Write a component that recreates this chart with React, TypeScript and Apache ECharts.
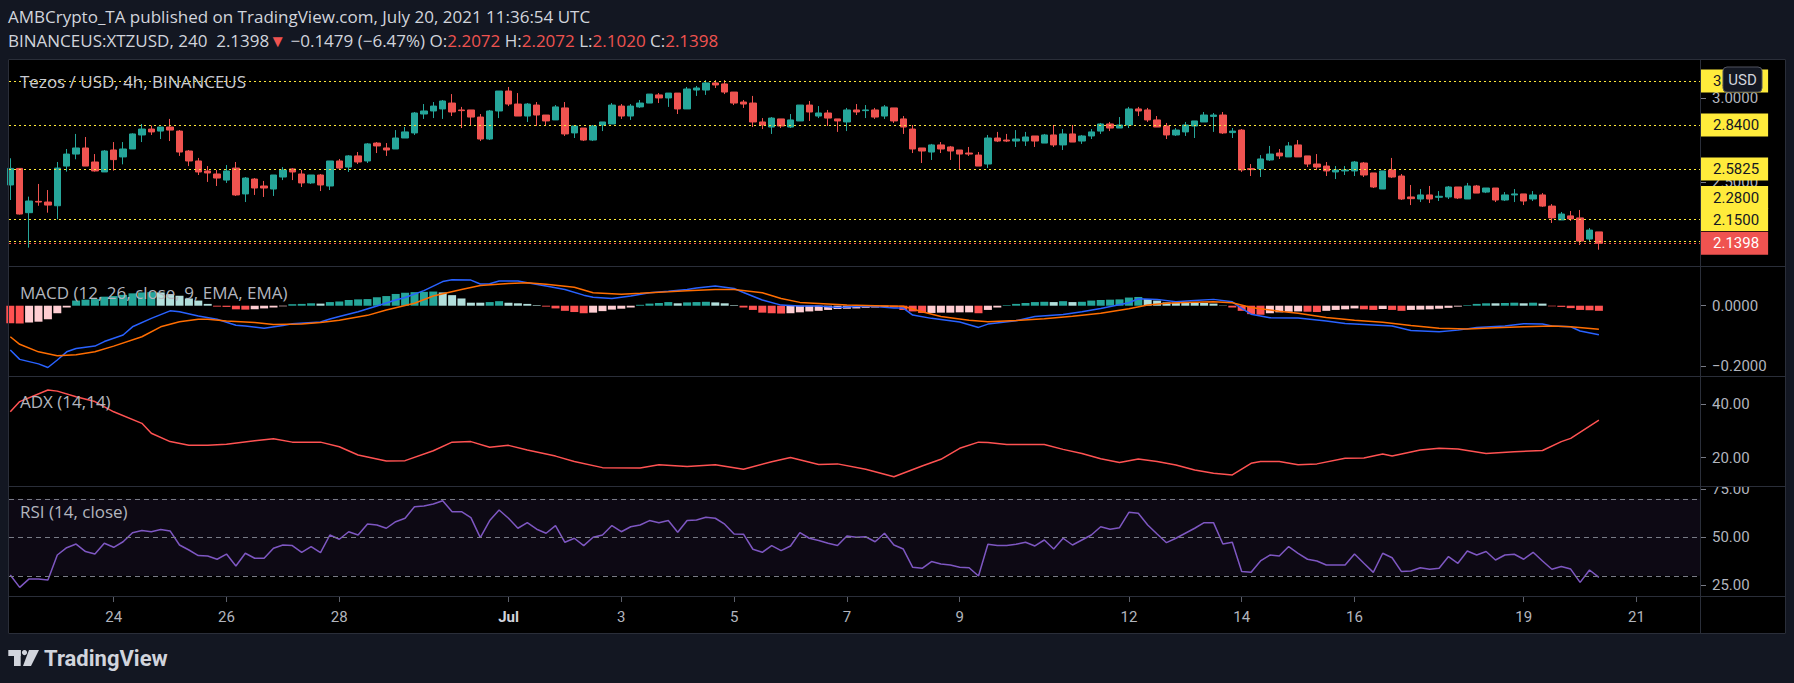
import React, { useEffect, useRef } from 'react';
import * as echarts from 'echarts';

const FONT = 'Roboto, "Noto Sans", "DejaVu Sans", sans-serif';
const LABEL_FONT = '"Open Sans", Roboto, "Noto Sans", sans-serif';

// x values are days counted from June 1 (June 24 = 24, July 1 = 31)
const FIRST_CANDLE_DAY = 22 + 4 / 24; // June 22, 04:00
const CANDLE_DAYS = 4 / 24; // 4h candles
const X_MIN = 22.1436;
const X_MAX = 52.1436;

const dayTicks = [24, 26, 28, 31, 33, 35, 37, 39, 42, 44, 46, 49, 51];
const dayTickLabels = ['24', '26', '28', 'Jul', '3', '5', '7', '9', '12', '14', '16', '19', '21'];

const opens = [2.485,2.583,2.321,2.388,2.384,2.362,2.597,2.668,2.704,2.621,
2.562,2.692,2.651,2.698,2.781,2.816,2.804,2.828,2.804,2.686,
2.627,2.568,2.550,2.514,2.585,2.432,2.520,2.479,2.461,2.532,
2.580,2.550,2.497,2.544,2.479,2.627,2.591,2.657,2.627,2.733,
2.704,2.698,2.763,2.793,2.905,2.923,2.935,2.970,2.929,2.929,
2.887,2.757,2.923,3.041,2.964,2.893,2.958,2.899,2.870,2.941,
2.793,2.822,2.751,2.840,2.846,2.952,2.893,2.947,2.970,3.018,
3.000,3.029,2.935,3.047,3.047,3.089,3.083,3.035,2.976,2.970,
2.858,2.828,2.876,2.828,2.864,2.958,2.893,2.911,2.876,2.858,
2.929,2.925,2.929,2.893,2.941,2.876,2.816,2.704,2.680,2.722,
2.710,2.692,2.674,2.662,2.609,2.763,2.751,2.745,2.745,2.775,
2.733,2.781,2.722,2.787,2.745,2.775,2.804,2.846,2.822,2.840,
2.935,2.929,2.870,2.834,2.781,2.799,2.834,2.858,2.891,2.899,
2.795,2.810,2.582,2.580,2.633,2.674,2.651,2.722,2.657,2.609,
2.597,2.562,2.568,2.568,2.615,2.556,2.461,2.574,2.538,2.414,
2.402,2.426,2.412,2.414,2.473,2.402,2.479,2.443,2.467,2.396,
2.426,2.432,2.402,2.426,2.360,2.278,2.302,2.290,2.165,2.2072];

const highs = [2.643,2.585,2.416,2.491,2.455,2.621,2.698,2.787,2.769,2.668,
2.692,2.739,2.739,2.791,2.846,2.836,2.828,2.876,2.810,2.692,
2.645,2.597,2.574,2.603,2.621,2.532,2.526,2.509,2.544,2.591,
2.585,2.574,2.544,2.550,2.627,2.639,2.662,2.680,2.733,2.739,
2.733,2.810,2.828,2.917,2.964,2.976,2.988,3.023,2.947,2.929,
2.905,2.929,3.041,3.065,3.029,2.970,2.976,2.899,2.958,2.976,
2.834,2.822,2.840,2.858,2.970,2.964,2.964,2.988,3.023,3.029,
3.029,3.029,3.065,3.071,3.106,3.106,3.106,3.035,2.988,3.012,
2.881,2.887,2.876,2.905,2.958,2.982,2.952,2.929,2.876,2.941,
2.964,2.958,2.941,2.958,2.941,2.893,2.840,2.704,2.728,2.739,
2.716,2.692,2.710,2.680,2.781,2.799,2.787,2.810,2.799,2.775,
2.787,2.840,2.816,2.840,2.781,2.816,2.852,2.858,2.887,2.947,
2.947,2.941,2.893,2.852,2.822,2.858,2.864,2.917,2.911,2.917,
2.822,2.816,2.609,2.662,2.716,2.698,2.739,2.751,2.657,2.668,
2.621,2.597,2.597,2.627,2.621,2.556,2.568,2.645,2.550,2.485,
2.461,2.479,2.449,2.479,2.473,2.497,2.485,2.467,2.467,2.443,
2.461,2.432,2.449,2.437,2.372,2.325,2.331,2.337,2.230,2.2072];

const lows = [2.396,2.310,2.114,2.362,2.321,2.282,2.564,2.637,2.597,2.564,
2.562,2.570,2.607,2.698,2.739,2.781,2.757,2.745,2.657,2.597,
2.544,2.503,2.479,2.497,2.420,2.384,2.426,2.414,2.420,2.514,
2.514,2.473,2.491,2.449,2.455,2.574,2.562,2.609,2.615,2.674,
2.657,2.698,2.763,2.781,2.876,2.881,2.876,2.893,2.822,2.834,
2.745,2.751,2.881,2.952,2.893,2.858,2.834,2.834,2.870,2.775,
2.763,2.745,2.745,2.804,2.846,2.876,2.870,2.941,2.970,2.970,
2.947,2.905,2.935,3.012,3.018,3.059,3.023,2.958,2.941,2.828,
2.816,2.787,2.822,2.822,2.864,2.864,2.881,2.834,2.799,2.804,
2.899,2.881,2.876,2.876,2.852,2.787,2.674,2.615,2.633,2.674,
2.633,2.574,2.657,2.597,2.585,2.739,2.739,2.710,2.716,2.710,
2.733,2.710,2.692,2.739,2.728,2.757,2.787,2.804,2.822,2.822,
2.893,2.858,2.828,2.757,2.775,2.775,2.763,2.858,2.799,2.787,
2.763,2.562,2.538,2.532,2.627,2.639,2.651,2.651,2.591,2.574,
2.538,2.520,2.544,2.538,2.532,2.467,2.461,2.526,2.396,2.366,
2.384,2.378,2.390,2.402,2.402,2.402,2.437,2.437,2.384,2.390,
2.384,2.366,2.390,2.355,2.260,2.278,2.272,2.130,2.147,2.1020];

const closes = [2.583,2.313,2.390,2.384,2.366,2.585,2.668,2.704,2.597,2.568,
2.686,2.635,2.698,2.787,2.816,2.799,2.828,2.810,2.680,2.627,
2.562,2.556,2.526,2.568,2.426,2.526,2.467,2.467,2.544,2.574,
2.562,2.497,2.544,2.485,2.627,2.585,2.657,2.621,2.728,2.716,
2.692,2.763,2.799,2.911,2.923,2.952,2.982,2.917,2.925,2.887,
2.757,2.923,3.041,2.964,2.893,2.964,2.899,2.864,2.947,2.787,
2.834,2.751,2.834,2.858,2.958,2.893,2.952,2.970,3.023,3.000,
3.029,2.935,3.053,3.059,3.089,3.077,3.035,2.970,2.964,2.858,
2.840,2.881,2.834,2.870,2.958,2.917,2.911,2.881,2.864,2.929,
2.917,2.929,2.887,2.947,2.864,2.828,2.698,2.686,2.722,2.698,
2.686,2.668,2.668,2.597,2.763,2.745,2.745,2.757,2.769,2.745,
2.781,2.722,2.787,2.739,2.775,2.799,2.846,2.822,2.840,2.935,
2.923,2.870,2.828,2.781,2.810,2.840,2.864,2.899,2.899,2.793,
2.804,2.574,2.576,2.639,2.668,2.657,2.716,2.651,2.609,2.591,
2.568,2.574,2.574,2.621,2.544,2.473,2.568,2.532,2.402,2.404,
2.426,2.402,2.418,2.473,2.408,2.479,2.437,2.467,2.396,2.426,
2.432,2.390,2.426,2.360,2.290,2.313,2.284,2.153,2.218,2.1398];

const macdHist = [-0.058,-0.059,-0.056,-0.053,-0.045,-0.025,-0.006,0.017,0.020,0.022,
0.030,0.032,0.036,0.041,0.044,0.045,0.044,0.038,0.033,0.024,
0.017,0.006,-0.003,-0.004,-0.012,-0.013,-0.012,-0.009,-0.006,-0.002,
0.005,0.006,0.008,0.007,0.012,0.014,0.019,0.021,0.022,0.028,
0.032,0.039,0.043,0.045,0.046,0.047,0.044,0.035,0.024,0.010,
0.010,0.012,0.015,0.010,0.008,0.006,0.002,-0.003,-0.009,-0.017,
-0.021,-0.025,-0.023,-0.018,-0.013,-0.010,-0.006,0.003,0.007,0.009,
0.012,0.008,0.011,0.012,0.013,0.011,0.008,0.002,-0.006,-0.014,
-0.023,-0.025,-0.026,-0.025,-0.022,-0.019,-0.017,-0.014,-0.011,-0.010,
-0.009,-0.007,-0.006,-0.004,-0.006,-0.014,-0.019,-0.024,-0.024,-0.023,
-0.023,-0.022,-0.022,-0.025,-0.014,-0.006,0.002,0.006,0.009,0.012,
0.013,0.012,0.015,0.012,0.013,0.017,0.019,0.020,0.021,0.027,
0.029,0.022,0.017,0.011,0.010,0.010,0.010,0.009,0.007,0.001,
-0.006,-0.017,-0.028,-0.030,-0.025,-0.022,-0.020,-0.019,-0.020,-0.021,
-0.017,-0.014,-0.012,-0.009,-0.012,-0.014,-0.011,-0.014,-0.017,-0.014,
-0.013,-0.012,-0.010,-0.007,-0.003,0.002,0.006,0.008,0.008,0.009,
0.010,0.008,0.010,0.007,-0.002,-0.004,-0.008,-0.014,-0.015,-0.017];

const macdAt = [0,1,3,4,5,6,7,9,10,12,13,15,17,18,20,22,24,25,27,29,30,33,34,35,37,39,41,42,44,46,47,49,50,51,52,54,55,57,59,61,62,64,66,68,70,72,73,75,77,78,80,82,84,86,88,90,92,94,95,96,98,101,103,104,107,109,112,114,116,119,120,122,124,126,128,130,131,132,134,137,140,142,144,147,149,152,154,156,159,161,163,164,166,167,169];
const macdLine = [-0.147,-0.178,-0.193,-0.205,-0.180,-0.153,-0.142,-0.134,-0.119,-0.097,-0.070,-0.042,-0.017,-0.020,-0.034,-0.045,-0.065,-0.067,-0.075,-0.066,-0.060,-0.054,-0.044,-0.036,-0.020,-0.001,0.019,0.027,0.050,0.080,0.086,0.085,0.072,0.073,0.082,0.082,0.076,0.065,0.054,0.035,0.028,0.024,0.032,0.043,0.048,0.054,0.059,0.065,0.057,0.044,0.019,0.002,-0.001,-0.001,-0.006,-0.003,-0.003,-0.008,-0.008,-0.031,-0.042,-0.054,-0.072,-0.061,-0.050,-0.036,-0.029,-0.020,-0.009,0.010,0.023,0.021,0.013,0.017,0.021,0.013,-0.009,-0.028,-0.040,-0.041,-0.051,-0.059,-0.062,-0.067,-0.082,-0.086,-0.081,-0.072,-0.067,-0.060,-0.061,-0.067,-0.070,-0.084,-0.096];

const signalAt = [0,1,3,5,7,9,11,14,16,18,20,21,23,26,28,31,33,35,38,40,43,45,48,50,53,55,57,60,62,65,67,70,72,75,77,80,82,84,87,89,92,95,97,99,102,104,107,110,113,116,119,121,123,125,128,130,132,135,137,140,143,146,149,152,155,158,161,164,166,169];
const signalLine = [-0.103,-0.128,-0.153,-0.166,-0.163,-0.153,-0.134,-0.103,-0.070,-0.053,-0.045,-0.045,-0.051,-0.056,-0.062,-0.061,-0.056,-0.048,-0.032,-0.014,0.008,0.032,0.054,0.067,0.074,0.076,0.071,0.061,0.043,0.038,0.041,0.046,0.050,0.054,0.054,0.043,0.024,0.011,0.006,0.002,0.000,-0.002,-0.020,-0.036,-0.048,-0.053,-0.049,-0.043,-0.035,-0.025,-0.010,0.002,0.008,0.011,0.013,0.010,-0.006,-0.018,-0.025,-0.039,-0.048,-0.055,-0.066,-0.075,-0.077,-0.073,-0.070,-0.067,-0.070,-0.078];

const adxAt = [0,1,4,5,7,9,11,14,15,17,19,21,23,26,28,30,33,35,37,40,42,45,47,49,51,53,55,58,60,63,67,69,72,75,78,81,83,86,88,91,94,97,99,101,103,104,106,110,112,114,116,118,120,122,124,126,128,130,132,133,135,137,139,142,144,146,147,150,152,154,157,160,163,165,166,169];
const adxValues = [37.1,40.9,45.2,44.8,42.7,40.9,37.1,32.8,29.1,26.0,24.6,24.6,25.0,26.3,27.1,25.8,25.8,24.1,21.0,18.8,18.9,22.6,25.8,26.0,23.9,24.6,22.9,20.6,18.6,16.3,16.2,17.4,16.7,17.4,15.7,18.5,20.1,17.5,17.7,15.7,12.9,16.9,19.4,23.5,25.8,25.7,24.9,24.9,23.1,21.6,19.6,18.2,19.5,18.6,17.3,15.4,14.2,13.6,17.9,18.6,18.6,17.4,17.7,19.8,19.9,21.4,20.6,22.9,23.5,23.2,21.6,22.2,22.7,26.0,27.2,34.0];

const rsiValues = [30.4,24.0,28.4,28.4,27.8,40.8,44.6,46.5,42.6,41.3,
46.9,44.8,47.7,52.4,53.5,52.9,54.0,53.3,46.0,43.4,
40.5,40.3,38.6,41.3,35.1,41.7,39.1,39.1,44.3,46.0,
45.7,42.2,45.2,42.0,51.2,49.0,52.9,51.2,56.9,56.4,
54.7,58.1,59.9,65.9,66.3,67.3,69.0,63.3,63.3,60.2,
49.8,58.7,64.2,59.9,54.7,57.6,54.2,52.1,56.1,47.4,
49.5,45.7,50.0,51.2,56.1,52.9,55.5,56.4,58.7,57.6,
58.7,52.6,58.7,59.0,60.4,59.9,56.8,51.7,51.6,43.8,
42.2,45.7,43.1,45.5,52.4,49.5,48.3,46.9,45.7,50.7,
50.0,50.3,47.7,52.1,46.0,43.9,34.4,33.9,37.4,36.1,
35.6,34.4,34.2,29.9,46.4,45.7,45.7,46.4,47.4,45.5,
48.6,43.9,49.5,46.0,48.6,51.2,55.5,54.2,55.0,63.0,
62.5,56.4,51.7,47.2,49.5,52.1,54.7,57.6,57.6,46.5,
47.4,32.2,31.8,37.7,40.8,40.3,45.2,41.7,38.6,37.7,
35.6,35.6,35.6,41.3,36.5,31.8,41.7,39.4,32.2,32.5,
34.2,33.4,33.9,40.0,36.5,42.9,40.8,42.6,38.2,40.8,
41.2,38.6,42.2,37.7,33.4,34.8,33.5,26.6,33.0,29.2];

const priceLevels = [3.1, 2.84, 2.5825, 2.28, 2.15];
const lastClose = 2.1398;
const priceTicks = [2.5, 3.0];
const macdTicks = [-0.2, 0];
const adxTicks = [20, 40];
const rsiTicks = [25, 50, 75];
const rsiGuides = [70, 50, 30];

const candleDay = (k: number) => FIRST_CANDLE_DAY + k * CANDLE_DAYS;

const histColor = (k: number) => {
  const v = macdHist[k];
  const p = k > 0 ? macdHist[k - 1] : 0;
  if (v >= 0) return v > p ? '#26a69a' : '#b2dfdb';
  return v < p ? '#ff5252' : '#ffcdd2';
};

const AXIS_TEXT = '#b2b5be';
const SEP = '#2a2e39';

function buildOption() {
  const grids = [
    { left: 9, top: 60, width: 1692, height: 206 },
    { left: 9, top: 267, width: 1692, height: 110 },
    { left: 9, top: 377, width: 1692, height: 110 },
    { left: 9, top: 487, width: 1692, height: 110 },
  ];
  const xAxis = grids.map((_, i) => ({
    type: 'value',
    gridIndex: i,
    min: X_MIN,
    max: X_MAX,
    show: i === 3,
    axisLine: { show: false },
    splitLine: { show: false },
    axisTick: { show: i === 3, customValues: dayTicks, length: 5, lineStyle: { color: '#5d606b' } },
    axisLabel: {
      show: i === 3,
      customValues: dayTicks,
      margin: 12,
      color: AXIS_TEXT,
      fontSize: 15,
      fontFamily: FONT,
      formatter: (v: number) => {
        const idx = dayTicks.findIndex((d) => Math.abs(d - v) < 1e-6);
        const t = idx >= 0 ? dayTickLabels[idx] : '';
        return t === 'Jul' ? '{b|Jul}' : t;
      },
      rich: { b: { fontWeight: 'bold', color: '#d1d4dc', fontSize: 15, fontFamily: FONT } },
    },
  }));
  const yDef = (i: number, min: number, max: number, ticks: number[], fmt: (v: number) => string) => ({
    type: 'value',
    gridIndex: i,
    position: 'right',
    min,
    max,
    axisLine: { show: false },
    splitLine: { show: false },
    axisTick: { show: true, customValues: ticks, length: 5, lineStyle: { color: '#787b86' } },
    axisLabel: { customValues: ticks, margin: 11, color: AXIS_TEXT, fontSize: 15, fontFamily: FONT, formatter: fmt },
  });
  const yAxis = [
    yDef(0, 2.0054, 3.2247, priceTicks, (v) => v.toFixed(4)),
    yDef(1, -0.2365, 0.1284, macdTicks, (v) => (v < 0 ? '\u2212' : '') + Math.abs(v).toFixed(4)),
    yDef(2, 9.09, 50.06, adxTicks, (v) => v.toFixed(2)),
    yDef(3, 18.99, 76.13, rsiTicks, (v) => v.toFixed(2)),
  ];

  const candleData = opens.map((o, k) => [candleDay(k), o, closes[k], lows[k], highs[k]]);

  const levelLabel = (v: number) => {
    const txt = v.toFixed(4);
    // labels of the two lowest yellow levels are stacked upwards, as TradingView does
    return v === 2.28 || v === 2.15 ? `{y|${txt}}\n{g| }` : `{y|${txt}}`;
  };

  const series: any[] = [
    {
      type: 'candlestick',
      xAxisIndex: 0,
      yAxisIndex: 0,
      dimensions: ['time', 'open', 'close', 'lowest', 'highest'],
      encode: { x: 'time', y: ['open', 'close', 'lowest', 'highest'] },
      data: candleData,
      barWidth: 7,
      silent: true,
      itemStyle: { color: '#26a69a', color0: '#ef5350', borderColor: '#26a69a', borderColor0: '#ef5350', borderWidth: 1 },
      markLine: {
        silent: true,
        symbol: ['none', 'none'],
        animation: false,
        lineStyle: { color: '#ffeb3b', type: [2, 3], width: 1 },
        label: {
          show: true,
          position: 'end',
          distance: 0,
          rich: {
            y: { backgroundColor: '#ffeb3b', color: '#131722', fontSize: 15, lineHeight: 15, fontFamily: FONT, padding: [4, 9, 4, 12] },
            r: { backgroundColor: '#ef5350', color: '#ffffff', fontSize: 15, lineHeight: 15, fontFamily: FONT, padding: [4, 9, 4, 12] },
            g: { height: 44, lineHeight: 44, fontSize: 1 },
          },
        },
        data: [
          ...priceLevels.map((v) => ({ yAxis: v, label: { formatter: levelLabel(v) } })),
          { yAxis: lastClose, lineStyle: { color: '#ef5350', type: [2, 3] }, label: { formatter: `{r|${lastClose.toFixed(4)}}` } },
        ],
      },
    },
    {
      type: 'bar',
      xAxisIndex: 1,
      yAxisIndex: 1,
      barWidth: 8,
      silent: true,
      data: macdHist.map((v, k) => ({ value: [candleDay(k), v], itemStyle: { color: histColor(k) } })),
    },
    {
      type: 'line',
      xAxisIndex: 1,
      yAxisIndex: 1,
      showSymbol: false,
      silent: true,
      z: 3,
      lineStyle: { color: '#2962ff', width: 1.5 },
      data: macdAt.map((k, i) => [candleDay(k), macdLine[i]]),
    },
    {
      type: 'line',
      xAxisIndex: 1,
      yAxisIndex: 1,
      showSymbol: false,
      silent: true,
      z: 3,
      lineStyle: { color: '#ff6d00', width: 1.5 },
      data: signalAt.map((k, i) => [candleDay(k), signalLine[i]]),
    },
    {
      type: 'line',
      xAxisIndex: 2,
      yAxisIndex: 2,
      showSymbol: false,
      silent: true,
      lineStyle: { color: '#ff5252', width: 1.5 },
      data: adxAt.map((k, i) => [candleDay(k), adxValues[i]]),
    },
    {
      type: 'line',
      xAxisIndex: 3,
      yAxisIndex: 3,
      showSymbol: false,
      silent: true,
      lineStyle: { color: '#7e57c2', width: 1.5 },
      data: rsiValues.map((v, k) => [candleDay(k), v]),
      markArea: {
        silent: true,
        itemStyle: { color: 'rgba(126,87,194,0.1)' },
        label: { show: false },
        data: [[{ yAxis: rsiGuides[2] }, { yAxis: rsiGuides[0] }]],
      },
      markLine: {
        silent: true,
        symbol: ['none', 'none'],
        label: { show: false },
        lineStyle: { color: '#787b86', type: [5, 4], width: 1 },
        data: rsiGuides.map((v) => ({ yAxis: v })),
      },
    },
  ];

  const hLine = (y: number) => ({
    type: 'line',
    z: 50,
    silent: true,
    shape: { x1: 8, y1: y, x2: 1786, y2: y },
    style: { stroke: SEP, lineWidth: 1 },
  });
  const paneLabel = (text: string, y: number, color: string) => ({
    type: 'text',
    x: 20,
    y,
    z: 60,
    silent: true,
    style: { text, fill: color, fontSize: 17, fontFamily: LABEL_FONT, verticalAlign: 'middle', align: 'left' },
  });

  const graphic = [
    { type: 'rect', z: -10, silent: true, shape: { x: 8, y: 59, width: 1778, height: 575 }, style: { fill: '#000000' } },
    // cover the top of the RSI 75 label (clipped by the pane)
    { type: 'rect', z: 45, silent: true, shape: { x: 1702, y: 476, width: 83, height: 10.5 }, style: { fill: '#000000' } },
    hLine(266.5),
    hLine(376.5),
    hLine(486.5),
    hLine(596.5),
    { type: 'rect', z: 50, silent: true, shape: { x: 8.5, y: 59.5, width: 1777, height: 574 }, style: { fill: 'none', stroke: SEP, lineWidth: 1 } },
    { type: 'line', z: 50, silent: true, shape: { x1: 1700.5, y1: 59.5, x2: 1700.5, y2: 633.5 }, style: { stroke: SEP, lineWidth: 1 } },
    paneLabel('Tezos / USD, 4h, BINANCEUS', 81, '#c8cbd2'),
    paneLabel('MACD (12, 26, close, 9, EMA, EMA)', 292, AXIS_TEXT),
    paneLabel('ADX (14,14)', 401, AXIS_TEXT),
    paneLabel('RSI (14, close)', 511, AXIS_TEXT),
    // USD badge
    { type: 'rect', z: 100, silent: true, shape: { x: 1723, y: 67, width: 39, height: 25, r: 4 }, style: { fill: '#131722', stroke: '#50535e', lineWidth: 1 } },
    { type: 'text', z: 101, silent: true, x: 1742.5, y: 79.5, style: { text: 'USD', fill: '#d1d4dc', fontSize: 15, fontFamily: FONT, align: 'center', verticalAlign: 'middle' } },
    // TradingView logo
    { type: 'rect', z: 10, silent: true, shape: { x: 8.3, y: 650, width: 12.4, height: 6 }, style: { fill: '#d1d4dc' } },
    { type: 'rect', z: 10, silent: true, shape: { x: 14, y: 650, width: 6.7, height: 16 }, style: { fill: '#d1d4dc' } },
    { type: 'circle', z: 10, silent: true, shape: { cx: 24.5, cy: 652.6, r: 2.6 }, style: { fill: '#d1d4dc' } },
    { type: 'polygon', z: 10, silent: true, shape: { points: [[29, 650], [39, 650], [31, 666], [23, 666]] }, style: { fill: '#d1d4dc' } },
    { type: 'text', z: 10, silent: true, x: 44, y: 658.5, style: { text: 'TradingView', fill: '#d1d4dc', fontSize: 22, fontWeight: 'bold', fontFamily: FONT, verticalAlign: 'middle', align: 'left' } },
  ];

  const hdr = { fontSize: 17, fontFamily: LABEL_FONT, fontWeight: 'normal', lineHeight: 17 };

  return {
    animation: false,
    backgroundColor: '#131722',
    textStyle: { fontFamily: FONT },
    title: [
      {
        left: 8,
        top: 7.5,
        padding: 0,
        text: 'AMBCrypto_TA published on TradingView.com, July 20, 2021 11:36:54 UTC',
        textStyle: { color: '#d1d4dc', ...hdr },
      },
      {
        left: 8,
        top: 31.5,
        padding: 0,
        text: '{w|BINANCEUS:XTZUSD, 240  2.1398}{r|\u25BC}{w| \u22120.1479 (\u22126.47%) O:}{r|2.2072}{w| H:}{r|2.2072}{w| L:}{r|2.1020}{w| C:}{r|2.1398}',
        textStyle: {
          color: '#d1d4dc',
          ...hdr,
          rich: {
            w: { color: '#d1d4dc', ...hdr },
            r: { color: '#ef5350', ...hdr },
          },
        },
      },
    ],
    grid: grids,
    xAxis,
    yAxis,
    series,
    graphic,
  };
}

export default function App() {
  const ref = useRef<HTMLDivElement>(null);
  useEffect(() => {
    if (!ref.current) return;
    const chart = echarts.init(ref.current, undefined, { renderer: 'svg' });
    chart.setOption(buildOption() as any);
    return () => chart.dispose();
  }, []);
  return <div ref={ref} style={{ position: 'fixed', left: 0, top: 0, width: 1794, height: 683 }} />;
}
